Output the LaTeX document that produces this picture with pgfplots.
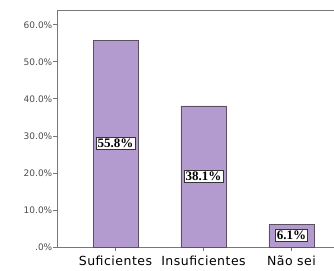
\documentclass[border=0pt]{standalone}
\usepackage{pgfplots}
\pgfplotsset{compat=1.18}
\usepackage{fontspec}
\setmainfont{DejaVu Sans}
\newfontfamily\xlabfont[LetterSpace=4]{DejaVu Sans}
\newfontfamily\labelfont{Liberation Serif}
\definecolor{barfill}{HTML}{B39BCF}
\definecolor{baredge}{HTML}{5A5060}
\definecolor{axgray}{HTML}{777777}
\begin{document}
\begin{tikzpicture}
\begin{axis}[
  at={(0pt,0pt)}, anchor=south west,
  scale only axis, width=279pt, height=237pt,
  xmin=-0.665, xmax=2.506, ymin=0, ymax=64,
  xtick={0,1,2}, xticklabels={Suficientes,Insuficientes,Não sei},
  ytick={0,10,...,60},
  yticklabels={.0\%,10.0\%,20.0\%,30.0\%,40.0\%,50.0\%,60.0\%},
  tick align=outside, xtick pos=bottom, ytick pos=left,
  major tick length=4pt,
  axis line style={axgray, line width=0.8pt},
  tick style={axgray, line width=0.8pt},
  yticklabel style={font=\fontsize{9}{10}\selectfont, color=black!70, inner sep=0.5pt},
  xticklabel style={font=\xlabfont\fontsize{12.5}{14}\selectfont, inner sep=1.5pt, yshift=-3pt},
]
\addplot[ybar, bar width=45pt, fill=barfill, draw=baredge, line width=0.8pt]
  coordinates {(0,55.8) (1,38.1) (2,6.1)};
\addplot[draw=none, mark=none, nodes near coords, point meta=explicit symbolic,
  nodes near coords style={anchor=center, fill=white, draw=black!80, line width=0.6pt,
    font=\labelfont\bfseries\fontsize{13}{14}\selectfont, inner sep=1.5pt}]
  coordinates {(0,27.9)[55.8\%] (1,19.05)[38.1\%] (2,3.05)[6.1\%]};
\end{axis}
\pgfresetboundingbox
\path (-57pt,-23pt) rectangle (277pt,247pt);
\end{tikzpicture}
\end{document}
